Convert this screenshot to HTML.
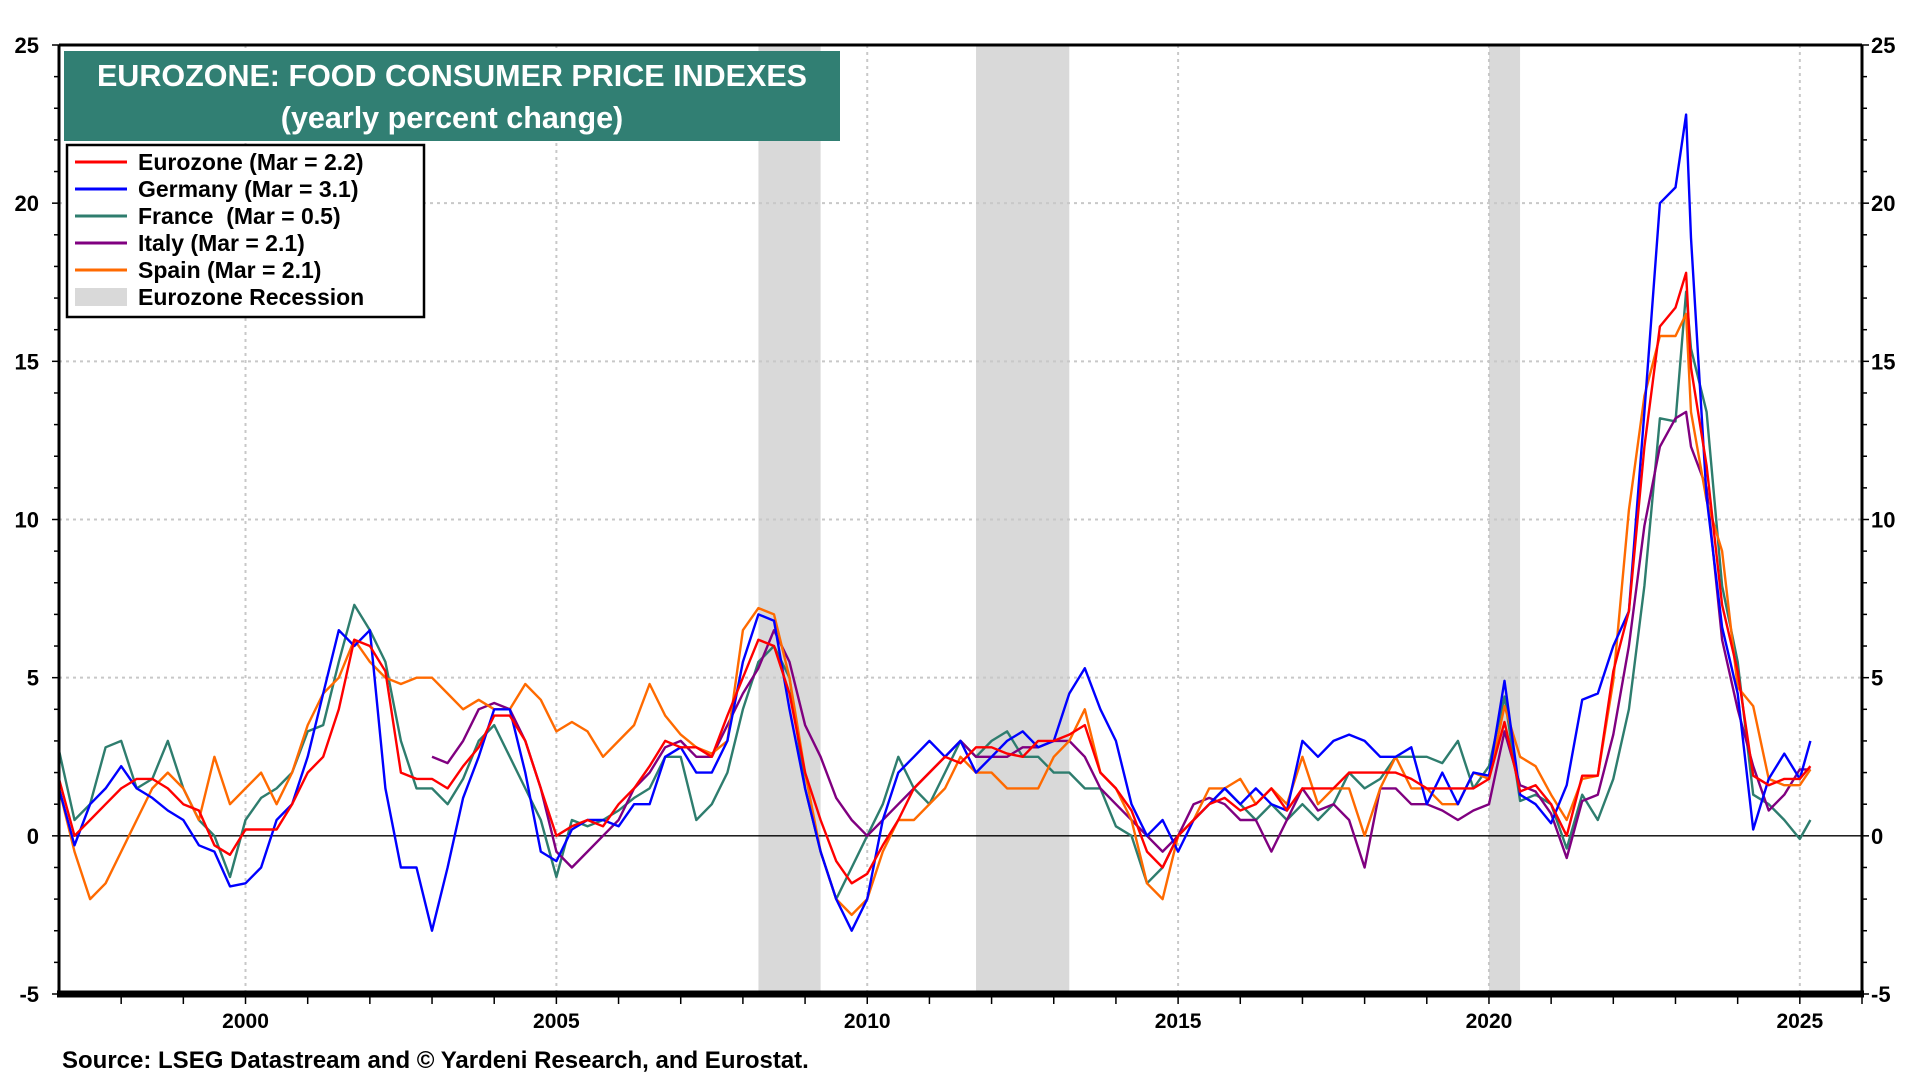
<!DOCTYPE html>
<html><head><meta charset="utf-8">
<style>
html,body{margin:0;padding:0;background:#fff;}
body{width:1920px;height:1080px;overflow:hidden;font-family:"Liberation Sans",Arial,sans-serif;}
svg text{font-family:"Liberation Sans",Arial,sans-serif;font-weight:bold;white-space:pre;}
</style></head>
<body>
<svg id="chart" width="1920" height="1080" xmlns="http://www.w3.org/2000/svg">
  <g id="bands"></g>
  <g id="grid"></g>
  <g id="series"></g>
  <g id="axes"></g>
  <g>
    <rect x="64" y="51" width="776" height="90" fill="#317f73"/>
    <text x="452" y="86" fill="#fff" font-size="30.5" text-anchor="middle">EUROZONE: FOOD CONSUMER PRICE INDEXES</text>
    <text x="452" y="128" fill="#fff" font-size="30.5" text-anchor="middle">(yearly percent change)</text>
  </g>
  <g id="legend">
    <rect x="67" y="145" width="357" height="172" fill="#fff" stroke="#000" stroke-width="2.5"/>
  </g>
  <text x="62" y="1068" font-size="24" fill="#000">Source: LSEG Datastream and © Yardeni Research, and Eurostat.</text>
</svg>
<script>
// ---- data ----
const quarterStart = 1997, quarterEnd = 2019.75;
const lateDates = [2020.0,2020.25,2020.5,2020.75,2021.0,2021.25,2021.5,2021.75,2022.0,2022.25,2022.5,2022.75,2023.0,2023.17,2023.25,2023.5,2023.75,2024.0,2024.25,2024.5,2024.75,2025.0,2025.17];
const eurozone = [1.8,0.0,0.5,1.0, 1.5,1.8,1.8,1.5, 1.0,0.8,-0.3,-0.6, 0.2,0.2,0.2,1.0, 2.0,2.5,4.0,6.2, 6.0,5.2,2.0,1.8, 1.8,1.5,2.2,2.8, 3.8,3.8,3.0,1.5, 0.0,0.3,0.5,0.3, 1.0,1.5,2.2,3.0, 2.8,2.8,2.5,3.8, 5.0,6.2,6.0,4.5, 2.0,0.5,-0.8,-1.5, -1.2,-0.3,0.5,1.5, 2.0,2.5,2.3,2.8, 2.8,2.6,2.5,3.0, 3.0,3.2,3.5,2.0, 1.5,0.8,-0.5,-1.0, 0.0,0.5,1.0,1.2, 0.8,1.0,1.5,0.8, 1.5,1.5,1.5,2.0, 2.0,2.0,2.0,1.8, 1.5,1.5,1.5,1.5,
  1.8,3.6,1.4,1.6, 1.0,0.0,1.9,1.9, 5.2,7.1,12.3,16.1, 16.7,17.8,14.8,11.7,7.3, 5.2,1.9,1.6,1.8, 1.8,2.2];
const germany = [1.5,-0.3,1.0,1.5, 2.2,1.5,1.2,0.8, 0.5,-0.3,-0.5,-1.6, -1.5,-1.0,0.5,1.0, 2.5,4.5,6.5,6.0, 6.5,1.5,-1.0,-1.0, -3.0,-1.0,1.2,2.5, 4.0,4.0,2.0,-0.5, -0.8,0.2,0.5,0.5, 0.3,1.0,1.0,2.5, 2.8,2.0,2.0,3.0, 5.5,7.0,6.8,4.0, 1.5,-0.5,-2.0,-3.0, -2.0,0.5,2.0,2.5, 3.0,2.5,3.0,2.0, 2.5,3.0,3.3,2.8, 3.0,4.5,5.3,4.0, 3.0,1.0,0.0,0.5, -0.5,0.5,1.0,1.5, 1.0,1.5,1.0,0.8, 3.0,2.5,3.0,3.2, 3.0,2.5,2.5,2.8, 1.0,2.0,1.0,2.0,
  1.9,4.9,1.3,1.0, 0.4,1.6,4.3,4.5, 6.0,7.1,13.4,20.0, 20.5,22.8,18.9,10.7,6.6, 4.5,0.2,1.8,2.6, 1.8,3.0];
const france = [2.7,0.5,1.0,2.8, 3.0,1.5,1.8,3.0, 1.5,0.5,0.0,-1.3, 0.5,1.2,1.5,2.0, 3.3,3.5,5.5,7.3, 6.5,5.5,3.0,1.5, 1.5,1.0,1.8,3.0, 3.5,2.5,1.5,0.5, -1.3,0.5,0.3,0.5, 0.8,1.2,1.5,2.5, 2.5,0.5,1.0,2.0, 4.0,5.5,6.0,5.0, 1.5,-0.5,-2.0,-1.0, 0.0,1.0,2.5,1.5, 1.0,2.0,3.0,2.5, 3.0,3.3,2.5,2.5, 2.0,2.0,1.5,1.5, 0.3,0.0,-1.5,-1.0, 0.0,0.5,1.0,1.5, 1.0,0.5,1.0,0.5, 1.0,0.5,1.0,2.0, 1.5,1.8,2.5,2.5, 2.5,2.3,3.0,1.5,
  2.2,4.4,1.1,1.3, 1.0,-0.4,1.3,0.5, 1.8,4.0,7.9,13.2, 13.1,17.2,15.4,13.4,7.9, 5.5,1.3,1.0,0.5, -0.1,0.5];
const italy = [null,null,null,null, null,null,null,null, null,null,null,null, null,null,null,null, null,null,null,null, null,null,null,null, 2.5,2.3,3.0,4.0, 4.2,4.0,3.0,1.5, -0.5,-1.0,-0.5,0.0, 0.5,1.5,2.0,2.8, 3.0,2.5,2.5,3.5, 4.5,5.3,6.5,5.5, 3.5,2.5,1.2,0.5, 0.0,0.5,1.0,1.5, 2.0,2.5,3.0,2.5, 2.5,2.5,2.8,2.8, 3.0,3.0,2.5,1.5, 1.0,0.5,0.0,-0.5, 0.0,1.0,1.2,1.0, 0.5,0.5,-0.5,0.5, 1.5,0.8,1.0,0.5, -1.0,1.5,1.5,1.0, 1.0,0.8,0.5,0.8,
  1.0,3.3,1.6,1.4, 0.7,-0.7,1.1,1.3, 3.2,6.0,9.8,12.3, 13.2,13.4,12.3,11.0,6.2, 4.0,2.2,0.8,1.3, 2.1,2.1];
const spain = [1.5,-0.5,-2.0,-1.5, -0.5,0.5,1.5,2.0, 1.5,0.5,2.5,1.0, 1.5,2.0,1.0,2.0, 3.5,4.5,5.0,6.2, 5.5,5.0,4.8,5.0, 5.0,4.5,4.0,4.3, 4.0,4.0,4.8,4.3, 3.3,3.6,3.3,2.5, 3.0,3.5,4.8,3.8, 3.2,2.8,2.6,3.0, 6.5,7.2,7.0,5.0, 2.0,-0.5,-2.0,-2.5, -2.0,-0.5,0.5,0.5, 1.0,1.5,2.5,2.0, 2.0,1.5,1.5,1.5, 2.5,3.0,4.0,2.0, 1.5,0.5,-1.5,-2.0, 0.0,0.5,1.5,1.5, 1.8,1.0,1.5,1.0, 2.5,1.0,1.5,1.5, 0.0,1.5,2.5,1.5, 1.5,1.0,1.0,2.0,
  1.8,4.1,2.5,2.2, 1.3,0.5,1.8,1.9, 4.9,10.3,13.9,15.8, 15.8,16.5,13.4,10.6,9.0, 4.7,4.1,1.8,1.6, 1.6,2.1];
const recessionStarts = [2008.25, 2011.75, 2020.0];
const recessionEnds = [2009.25, 2013.25, 2020.5];
const yTicks = [-5,0,5,10,15,20,25];
const xTickYears = [2000,2005,2010,2015,2020,2025];
const seriesNames = ["Eurozone (Mar = 2.2)","Germany (Mar = 3.1)","France  (Mar = 0.5)","Italy (Mar = 2.1)","Spain (Mar = 2.1)"];

// ---- scales ----
const L=59,R=1862,T=45,B=994, X0=1997, X1=2026, Y0=-5, Y1=25;
const xs = v => L + (v-X0)/(X1-X0)*(R-L);
const ys = v => B - (v-Y0)/(Y1-Y0)*(B-T);
const NS="http://www.w3.org/2000/svg";
function mk(tag, attrs, parent){const e=document.createElementNS(NS,tag);for(const k in attrs)e.setAttribute(k,attrs[k]);parent.appendChild(e);return e;}

const dates=[];
for(let d=quarterStart; d<=quarterEnd+1e-9; d+=0.25) dates.push(d);
lateDates.forEach(d=>dates.push(d));

// bands
const bands=document.getElementById('bands');
recessionStarts.forEach((s,i)=>{
  const r=mk('rect',{x:xs(s),y:T,width:xs(recessionEnds[i])-xs(s),height:B-T,fill:'#d9d9d9'},bands);
  
  
});

// grid
const grid=document.getElementById('grid');
yTicks.forEach(v=>{ if(v>0&&v<25){
  const l=mk('line',{x1:L,x2:R,y1:ys(v),y2:ys(v),stroke:'#c8c8c8','stroke-width':2,'stroke-dasharray':'3,4'},grid);
  
  
}});
xTickYears.forEach(v=>{
  const l=mk('line',{x1:xs(v),x2:xs(v),y1:T,y2:B,stroke:'#c8c8c8','stroke-width':2,'stroke-dasharray':'3,4'},grid);
  
  
});
const zl=mk('line',{x1:L,x2:R,y1:ys(0),y2:ys(0),stroke:'#000','stroke-width':1.3},grid);



// series
const seriesData=[eurozone,germany,france,italy,spain];
const colors=['#ff0000','#0000ff','#2e7d6e','#800080','#ff6a00'];
const keys=['eurozone','germany','france','italy','spain'];
const sg=document.getElementById('series');
const drawOrder=[2,3,4,1,0];
drawOrder.forEach(i=>{
  const vals=seriesData[i]; let d=''; let pen=false;
  vals.forEach((v,j)=>{ if(v===null||v===undefined||j>=dates.length){pen=false;return;}
    d+=(pen?'L':'M')+xs(dates[j]).toFixed(1)+','+ys(v).toFixed(1); pen=true;});
  const p=mk('path',{d:d,fill:'none',stroke:colors[i],'stroke-width':2.4,'stroke-linejoin':'round'},sg);
  
  
});

// axes
const ax=document.getElementById('axes');
mk('line',{x1:L,x2:R,y1:T,y2:T,stroke:'#000','stroke-width':3},ax);
mk('line',{x1:L,x2:L,y1:T,y2:B,stroke:'#000','stroke-width':3},ax);
mk('line',{x1:R,x2:R,y1:T,y2:B,stroke:'#000','stroke-width':3},ax);
mk('line',{x1:L-2,x2:R+2,y1:B,y2:B,stroke:'#000','stroke-width':7},ax);
for(let v=Y0; v<=Y1; v++){
  const major=v%5===0;
  mk('line',{x1:L-(major?7:5),x2:L,y1:ys(v),y2:ys(v),stroke:'#000','stroke-width':1.5},ax);
  mk('line',{x1:R,x2:R+(major?7:5),y1:ys(v),y2:ys(v),stroke:'#000','stroke-width':1.5},ax);
}
yTicks.forEach(v=>{
  const t1=mk('text',{x:L-20,y:ys(v)+8,'font-size':22,'text-anchor':'end',fill:'#000'},ax);
  t1.textContent=v;
  
  
  const t2=mk('text',{x:R+9,y:ys(v)+8,'font-size':22,'text-anchor':'start',fill:'#000'},ax);
  t2.textContent=v;
  
  
});
for(let yr=1998; yr<=2026; yr++){
  mk('line',{x1:xs(yr),x2:xs(yr),y1:B+3,y2:B+10,stroke:'#000','stroke-width':1.5},ax);
}
xTickYears.forEach(v=>{
  const t=mk('text',{x:xs(v),y:1028,'font-size':21,'text-anchor':'middle',fill:'#000'},ax);
  t.textContent=v;
  
  
});

// legend
const lg=document.getElementById('legend');
const rowY=[162,189,216,243,270,297];
seriesNames.forEach((n,i)=>{
  const l=mk('line',{x1:75,x2:127,y1:rowY[i],y2:rowY[i],stroke:colors[i],'stroke-width':3},lg);
  
  
  const t=mk('text',{x:138,y:rowY[i]+8,'font-size':23,fill:'#000'},lg);
  t.textContent=n;
  
  
});
const rs=mk('rect',{x:75,y:rowY[5]-9,width:52,height:18,fill:'#d9d9d9'},lg);


const rt=mk('text',{x:138,y:rowY[5]+8,'font-size':23,fill:'#000'},lg);
rt.textContent='Eurozone Recession';


</script>
</body></html>
